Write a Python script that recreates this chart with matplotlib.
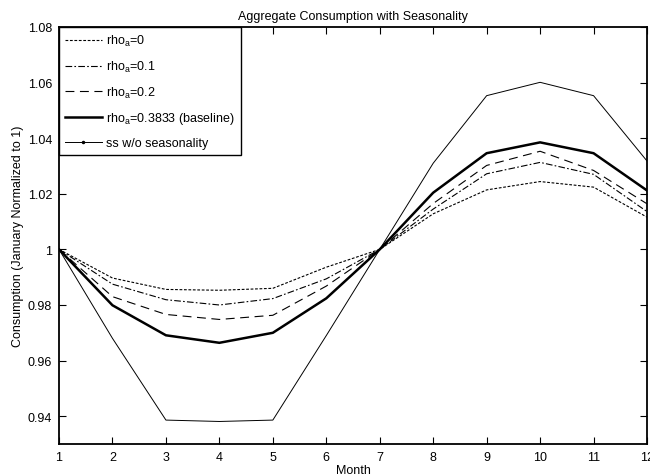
import matplotlib
matplotlib.use("Agg")
import matplotlib.pyplot as plt
from matplotlib.lines import Line2D

plt.rcParams['font.family'] = ['Liberation Sans', 'DejaVu Sans']
plt.rcParams['mathtext.default'] = 'regular'

months = list(range(1, 13))

rho_0 = [1.0, 0.9897, 0.9856, 0.9853, 0.9860, 0.9936, 1.0, 1.0128, 1.0214, 1.0244, 1.0224, 1.0116]
rho_01 = [1.0, 0.9875, 0.9819, 0.9800, 0.9823, 0.9894, 1.0, 1.0145, 1.0272, 1.0313, 1.0270, 1.0136]
rho_02 = [1.0, 0.9830, 0.9766, 0.9748, 0.9763, 0.9868, 1.0, 1.0165, 1.0302, 1.0353, 1.0284, 1.0164]
baseline = [1.0, 0.9799, 0.9691, 0.9664, 0.9700, 0.9824, 1.0, 1.0204, 1.0346, 1.0385, 1.0346, 1.0212]
ss = [1.0, 0.9680, 0.9386, 0.9381, 0.9386, 0.9690, 1.0, 1.0310, 1.0553, 1.0601, 1.0553, 1.0318]

labels = ['rho$_a$=0', 'rho$_a$=0.1', 'rho$_a$=0.2', 'rho$_a$=0.3833 (baseline)', 'ss w/o seasonality']
yticks = [0.94, 0.96, 0.98, 1.0, 1.02, 1.04, 1.06, 1.08]

fs = 9

fig = plt.figure(figsize=(6.5, 4.77), dpi=100)
ax = fig.add_axes([0.0908, 0.0671, 0.9046, 0.8742])

ax.plot(months, rho_0, color='k', linestyle=(0, (2.5, 1.5)), linewidth=0.8, label=labels[0])
ax.plot(months, rho_01, color='k', linestyle=(0, (6, 2, 1.5, 2)), linewidth=0.8, label=labels[1])
ax.plot(months, rho_02, color='k', linestyle=(0, (8, 5)), linewidth=0.8, label=labels[2])
ax.plot(months, baseline, color='k', linestyle='-', linewidth=1.8, label=labels[3])
ax.plot(months, ss, color='k', linestyle='-', linewidth=0.7)

ax.set_xlim(1, 12)
ax.set_ylim(0.93, 1.08)
ax.set_xticks(months)
ax.set_yticks(yticks)
ax.set_yticklabels(['%g' % v for v in yticks])
ax.tick_params(direction='in', length=5, width=0.8, top=True, right=True, labelsize=fs, pad=5)
for s in ax.spines.values():
    s.set_linewidth(1.3)

ax.set_title('Aggregate Consumption with Seasonality', fontsize=fs, pad=6)
ax.set_xlabel('Month', fontsize=fs, labelpad=1)
ax.set_ylabel('Consumption (January Normalized to 1)', fontsize=fs, labelpad=3)

handles, _ = ax.get_legend_handles_labels()
handles.append(Line2D([], [], color='k', linewidth=0.7, marker='.', markersize=3))
leg = ax.legend(handles, labels, loc='upper left', borderaxespad=0, fontsize=fs, fancybox=False,
                edgecolor='k', framealpha=1, handlelength=2.9, labelspacing=0.85,
                numpoints=1, borderpad=0.5, handletextpad=0.35)
leg.get_frame().set_linewidth(1.0)

fig.savefig('out.png', dpi=100)
